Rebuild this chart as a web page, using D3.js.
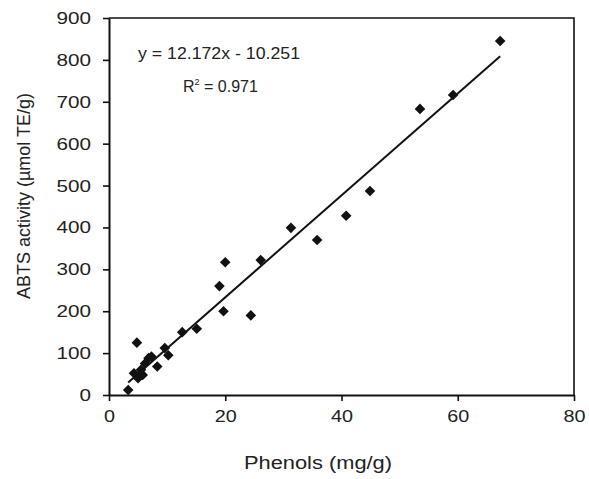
<!DOCTYPE html>
<html>
<head>
<meta charset="utf-8">
<script src="https://cdn.jsdelivr.net/npm/d3@7"></script>
<style>
  html, body { margin: 0; padding: 0; background: #fff; }
  svg { display: block; }
  text { font-family: "Liberation Sans", Arial, sans-serif; fill: #222; }
</style>
</head>
<body>
<svg id="chart" width="589" height="479"></svg>
<script>
// Total phenols (mg/g) vs ABTS activity (µmol TE/g)
const phenols = [3.3, 4.3, 4.8, 5.0, 5.5, 5.8, 6.2, 6.8, 7.3, 8.3, 9.6, 10.2, 12.6, 15.1,
                 19.0, 19.7, 20.0, 24.4, 26.1, 31.3, 35.8, 40.8, 44.9, 53.5, 59.2, 67.3];
const abts    = [12, 52, 125, 40, 60, 48, 75, 88, 92, 68, 112, 95, 150, 158,
                 260, 200, 317, 190, 322, 399, 370, 428, 487, 683, 716, 845];

// Linear fit shown on the chart
const slope = 12.172;
const intercept = -10.251;
const r2 = 0.971;

const xTicks = [0, 20, 40, 60, 80];
const yTicks = [0, 100, 200, 300, 400, 500, 600, 700, 800, 900];

const svg = d3.select("#chart");
const plotL = 109, plotR = 574, plotT = 18, plotB = 395;

const x = d3.scaleLinear().domain([0, 80]).range([plotL, plotR]);
const y = d3.scaleLinear().domain([0, 900]).range([plotB, plotT]);

// plot frame (top and right edges)
svg.append("path")
  .attr("d", `M${plotL},${plotT}H${plotR}V${plotB}`)
  .attr("fill", "none").attr("stroke", "#111").attr("stroke-width", 1.6);

// axes
const xAxis = svg.append("g").attr("transform", `translate(0,${plotB})`)
  .call(d3.axisBottom(x).tickValues(xTicks).tickSize(6).tickSizeOuter(0).tickFormat(d3.format("d")));
const yAxis = svg.append("g").attr("transform", `translate(${plotL},0)`)
  .call(d3.axisLeft(y).tickValues(yTicks).tickSize(6).tickSizeOuter(0).tickFormat(d3.format("d")));

[xAxis, yAxis].forEach(g => {
  g.select(".domain").attr("stroke", "#111").attr("stroke-width", 2);
  g.selectAll(".tick line").attr("stroke", "#111").attr("stroke-width", 1.6);
  g.selectAll(".tick text").attr("font-size", 17).attr("fill", "#333")
    .style("font-family", "'Liberation Sans', Arial, sans-serif");
});
xAxis.selectAll(".tick text").attr("y", 15).attr("dy", "0.71em")
  .attr("textLength", d => String(d).length * 11).attr("lengthAdjust", "spacingAndGlyphs");
yAxis.selectAll(".tick text").attr("x", -18)
  .attr("textLength", d => String(d).length * 11.5).attr("lengthAdjust", "spacingAndGlyphs");

// regression line across the data range
const xr = d3.extent(phenols);
svg.append("line")
  .attr("x1", x(xr[0])).attr("y1", y(slope * xr[0] + intercept))
  .attr("x2", x(xr[1])).attr("y2", y(slope * xr[1] + intercept))
  .attr("stroke", "#111").attr("stroke-width", 2);

// diamond markers
const diamond = d3.symbol(d3.symbolSquare, 56);
svg.append("g").selectAll("path")
  .data(phenols.map((p, i) => [p, abts[i]]))
  .join("path")
  .attr("d", diamond)
  .attr("transform", d => `translate(${x(d[0])},${y(d[1])}) rotate(45)`)
  .attr("fill", "#111");

// equation annotation
svg.append("text")
  .attr("x", 138).attr("y", 59).attr("font-size", 17)
  .attr("textLength", 162).attr("lengthAdjust", "spacingAndGlyphs")
  .text(`y = ${slope}x - ${Math.abs(intercept)}`);
const rText = svg.append("text")
  .attr("x", 183).attr("y", 92).attr("font-size", 16);
rText.append("tspan").text("R");
rText.append("tspan").attr("font-size", 9).attr("dy", -7).text("2");
rText.append("tspan").attr("dy", 7).text(` = ${r2}`);

// axis titles
svg.append("text")
  .attr("x", 318).attr("y", 469).attr("text-anchor", "middle").attr("font-size", 18)
  .attr("textLength", 148).attr("lengthAdjust", "spacingAndGlyphs")
  .text("Phenols (mg/g)");
svg.append("text")
  .attr("transform", "translate(30,196) rotate(-90)")
  .attr("text-anchor", "middle").attr("font-size", 18)
  .text("ABTS activity (µmol TE/g)");
</script>
</body>
</html>
